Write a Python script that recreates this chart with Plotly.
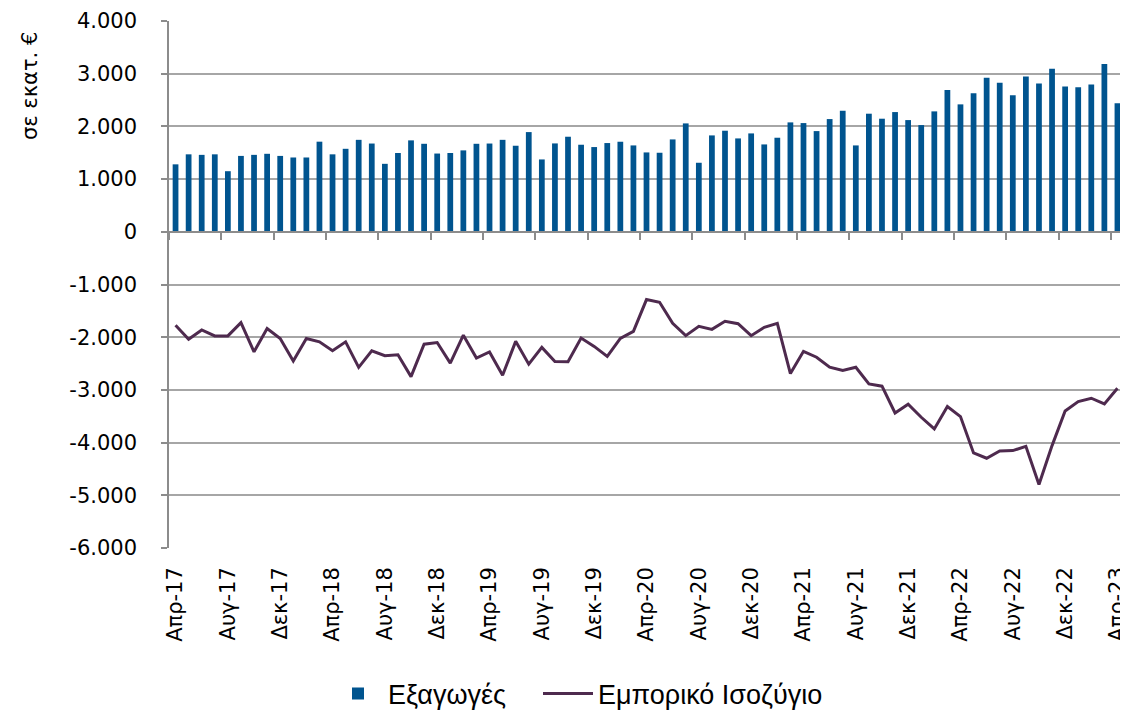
import plotly.graph_objects as go

# ---- data -------------------------------------------------------------
month_names = ["Ιαν", "Φεβ", "Μαρ", "Απρ", "Μαϊ", "Ιουν",
               "Ιουλ", "Αυγ", "Σεπ", "Οκτ", "Νοε", "Δεκ"]
categories = []
for k in range(73):
    m = (3 + k) % 12
    yy = 17 + (3 + k) // 12
    categories.append(f"{month_names[m]}-{yy}")

exports = [1280, 1470, 1460, 1470, 1150, 1440, 1460, 1480, 1440, 1410,
           1410, 1710, 1470, 1575, 1745, 1675, 1290, 1495, 1735, 1670,
           1485, 1495, 1545, 1670, 1675, 1745, 1633, 1892, 1373, 1677,
           1804, 1652, 1608, 1684, 1709, 1639, 1506, 1500, 1753, 2057,
           1310, 1829, 1918, 1772, 1867, 1658, 1785, 2076, 2063, 1911,
           2139, 2297, 1639, 2241, 2146, 2272, 2120, 2025, 2285, 2690,
           2418, 2627, 2924, 2829, 2589, 2949, 2816, 3095, 2759, 2741,
           2797, 3184, 2437]

trade_balance = [-1774, -2038, -1862, -1975, -1975, -1723, -2277, -1836, -2025, -2453,
                 -2025, -2088, -2258, -2088, -2572, -2258, -2352, -2333, -2748, -2132,
                 -2101, -2491, -1962, -2396, -2280, -2721, -2079, -2511, -2194, -2460,
                 -2467, -2016, -2175, -2365, -2022, -1889, -1286, -1337, -1737, -1971,
                 -1794, -1851, -1698, -1743, -1971, -1813, -1737, -2689, -2268, -2380,
                 -2570, -2633, -2570, -2886, -2930, -3437, -3272, -3519, -3741, -3316,
                 -3506, -4196, -4297, -4158, -4152, -4070, -4797, -4057, -3399, -3222,
                 -3158, -3266, -2968]

y_tickvals = [4000, 3000, 2000, 1000, 0, -1000, -2000, -3000, -4000, -5000, -6000]
y_ticktext = ["4.000", "3.000", "2.000", "1.000", "0", "-1.000", "-2.000",
              "-3.000", "-4.000", "-5.000", "-6.000"]

series_names = ["Εξαγωγές", "Εμπορικό Ισοζύγιο"]
y_title = "σε εκατ. €"

# ---- figure -----------------------------------------------------------
FONT = "DejaVu Sans, Verdana, sans-serif"
LFONT = "Liberation Sans, Arial, sans-serif"
GRID = "#a6a6a6"
AXIS = "#8c8c8c"

# the page body has an 8px default margin, so the figure is drawn at (8, 8)
OFF = 8
W, H = 1128 - OFF, 711 - OFF
L, R, T, B = 169 - OFF, 4, 21 - OFF, 711 - 548
pw, ph = W - L - R, H - T - B

fig = go.Figure()
fig.add_trace(go.Bar(x=categories, y=exports, name=series_names[0],
                     marker=dict(color="#00548f", line=dict(width=0)),
                     xaxis="x", yaxis="y", legend="legend"))
fig.add_trace(go.Scatter(x=categories, y=trade_balance, name=series_names[1],
                         mode="lines", line=dict(color="#4e2a4e", width=3),
                         xaxis="x2", yaxis="y", legend="legend2"))

legend_common = dict(orientation="h", xref="container", yref="container",
                     xanchor="left", y=1 - (694 - OFF) / H, yanchor="middle",
                     font=dict(size=27, family=LFONT), itemwidth=50,
                     bgcolor="rgba(0,0,0,0)")

fig.update_layout(
    width=W, height=H,
    margin=dict(l=L, r=R, t=T, b=B, autoexpand=False),
    paper_bgcolor="white", plot_bgcolor="white",
    font=dict(family=FONT, color="black"),
    bargap=0.56,
    showlegend=True,
    legend=dict(x=(328 - OFF) / W, **legend_common),
    legend2=dict(x=(538 - OFF) / W, **legend_common),
    xaxis=dict(type="category", range=[-0.5, 72.5], tickmode="linear",
               tick0=0, dtick=4, tickangle=-90, showgrid=False,
               showline=False, ticks="", tickfont=dict(size=21),
               ticklabelstandoff=14, zeroline=False, automargin=False),
    xaxis2=dict(type="category", overlaying="x", matches="x", anchor="free",
                position=0.6, side="bottom", showline=True, linecolor=AXIS,
                linewidth=1.5, ticks="outside", ticklen=7, tickcolor=AXIS,
                tickwidth=1.5, tickson="boundaries", tickmode="linear",
                tick0=0, dtick=4, showticklabels=False, showgrid=False,
                zeroline=False, automargin=False),
    yaxis=dict(range=[-6000, 4000], tickmode="array", tickvals=y_tickvals,
               ticktext=y_ticktext, showgrid=True, gridcolor=GRID,
               gridwidth=1.5, zeroline=False, showline=True, linecolor=AXIS,
               linewidth=1.5, ticks="outside", ticklen=6, tickcolor=AXIS,
               tickwidth=1.5, tickfont=dict(size=21), ticklabelstandoff=20,
               automargin=False),
    annotations=[dict(text=y_title, xref="paper", yref="paper",
                      x=(30 - 169) / pw, y=(548 - 86) / ph,
                      xanchor="center", yanchor="middle", textangle=-90,
                      showarrow=False, font=dict(size=21, family=FONT))],
)

fig.write_html("out.html")
